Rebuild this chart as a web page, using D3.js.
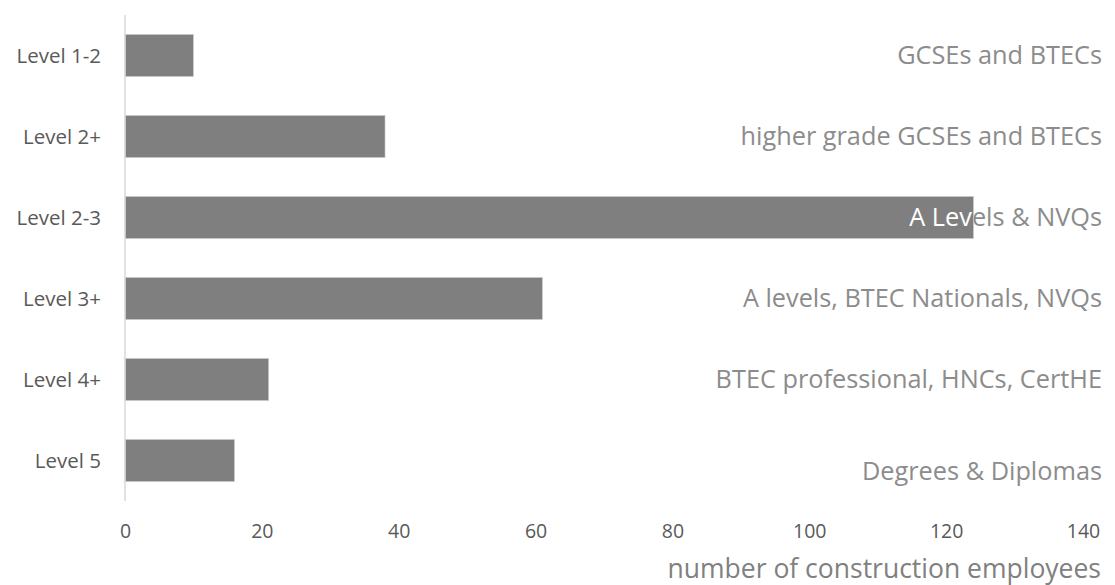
<!DOCTYPE html>
<html>
<head>
<meta charset="utf-8">
<script src="https://cdn.jsdelivr.net/npm/d3@7"></script>
<style>
  html, body { margin: 0; padding: 0; background: #fff; }
  svg { display: block; }
  svg text { font-family: "Open Sans", Lato, sans-serif; }
</style>
</head>
<body>
<svg id="chart" width="1115" height="585"></svg>
<script>
// Qualification levels and employee counts
const levels = ["Level 1-2", "Level 2+", "Level 2-3", "Level 3+", "Level 4+", "Level 5"];
const employees = [10, 38, 124, 61, 21, 16];
const qualifications = [
  "GCSEs and BTECs",
  "higher grade GCSEs and BTECs",
  "A Levels & NVQs",
  "A levels, BTEC Nationals, NVQs",
  "BTEC professional, HNCs, CertHE",
  "Degrees & Diplomas"
];
const xTicks = [0, 20, 40, 60, 80, 100, 120, 140];
const axisTitle = "number of construction employees";

const svg = d3.select("#chart");
const width = 1115, height = 585;
const margin = { top: 15, left: 125, right: width - 1083, bottom: height - 501 };

const x = d3.scaleLinear().domain([0, 140]).range([margin.left, width - margin.right]);
const y = d3.scaleBand().domain(levels)
  .range([margin.top, height - margin.bottom])
  .paddingInner(0.48).paddingOuter(0.24);

const rows = levels.map((l, i) => ({ level: l, value: employees[i], note: qualifications[i] }));

// bars
const defs = svg.append("defs");
svg.append("g").selectAll("rect").data(rows).join("rect")
  .attr("x", x(0))
  .attr("y", d => y(d.level))
  .attr("width", d => x(d.value) - x(0))
  .attr("height", y.bandwidth())
  .attr("fill", "#7f7f7f")
  .attr("stroke", "#d0d0d0")
  .attr("stroke-width", 0.6);

rows.forEach((d, i) => {
  defs.append("clipPath").attr("id", "clip" + i)
    .append("rect")
    .attr("x", x(0))
    .attr("y", y(d.level))
    .attr("width", x(d.value) - x(0))
    .attr("height", y.bandwidth());
});

// category labels
const yAxis = d3.axisLeft(y).tickSize(0).tickPadding(24);
const gy = svg.append("g").attr("transform", `translate(${x(0)},0)`).call(yAxis)
  .attr("font-family", null).attr("font-size", null);
gy.select(".domain").remove();
gy.selectAll("text").attr("fill", "#595959").style("font-size", "20.5px").attr("dy", "0.35em");

// vertical axis line
svg.append("line")
  .attr("x1", x(0)).attr("x2", x(0))
  .attr("y1", margin.top).attr("y2", height - margin.bottom)
  .attr("stroke", "#d9d9d9").attr("stroke-width", 1.5);

// value axis labels
const xAxis = d3.axisBottom(x).tickValues(xTicks).tickSize(0).tickPadding(0);
const gx = svg.append("g").attr("transform", `translate(0,${height - margin.bottom})`).call(xAxis)
  .attr("font-family", null).attr("font-size", null);
gx.select(".domain").remove();
gx.selectAll("text").attr("fill", "#595959").style("font-size", "19.5px").attr("dy", "0").attr("y", 37);

// axis title
svg.append("text")
  .attr("x", 1101).attr("y", 578)
  .attr("text-anchor", "end")
  .attr("fill", "#808080")
  .style("font-size", "26.5px")
  .text(axisTitle);

// qualification notes at right, white where they cross a bar
const noteOffset = [0, 0, 0, 0, 0, 11];
const noteX = 1102;
const noteSize = "25.3px";
const notes = svg.append("g");
rows.forEach((d, i) => {
  const yy = y(d.level) + y.bandwidth() / 2 + noteOffset[i];
  notes.append("text")
    .attr("x", noteX).attr("y", yy).attr("dy", "0.35em")
    .attr("text-anchor", "end").attr("fill", "#8c8c8c")
    .style("font-size", noteSize).text(d.note);
  notes.append("text")
    .attr("x", noteX).attr("y", yy).attr("dy", "0.35em")
    .attr("text-anchor", "end").attr("fill", "#ffffff")
    .attr("clip-path", `url(#clip${i})`)
    .style("font-size", noteSize).text(d.note);
});
</script>
</body>
</html>
